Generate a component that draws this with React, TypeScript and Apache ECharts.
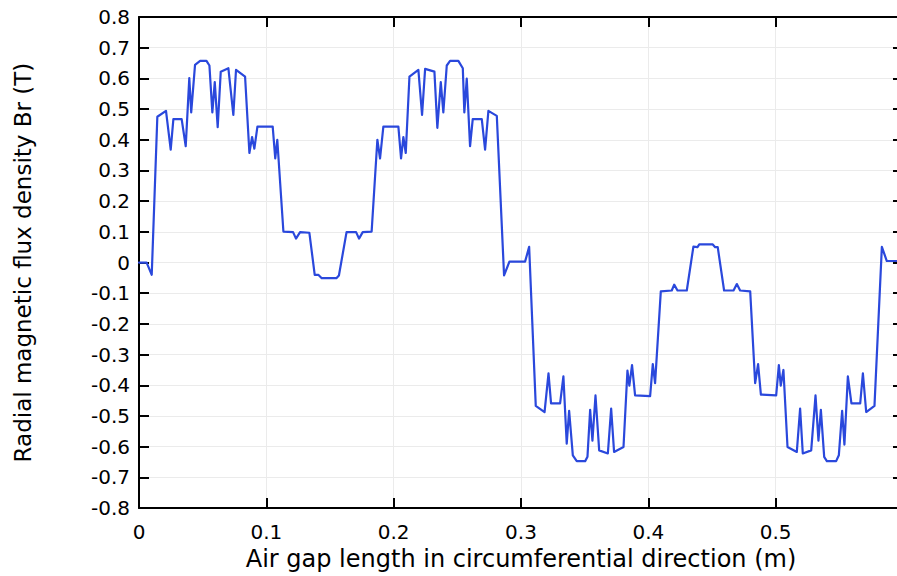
import React, { useEffect, useRef } from "react";
import * as echarts from "echarts";

const xTickInterval = 0.1;
const yTickInterval = 0.1;
const xMin = 0;
const xMax = 0.6;
const yMin = -0.8;
const yMax = 0.8;

const xValues: number[] = [
  0, 0.006, 0.010, 0.0144, 0.0212, 0.0249, 0.027, 0.0335, 0.0367, 0.0395,
  0.041, 0.044, 0.048, 0.053, 0.0553, 0.0576, 0.0595, 0.0618, 0.0642, 0.0702,
  0.0741, 0.0762, 0.0833, 0.0867, 0.0888, 0.0906, 0.093, 0.105, 0.107, 0.1086,
  0.1134, 0.121, 0.1233, 0.1265, 0.1338, 0.138, 0.1408, 0.1435, 0.155, 0.157,
  0.163, 0.1705, 0.1728, 0.1757, 0.1827, 0.1872, 0.1893, 0.1919, 0.2037, 0.2058,
  0.2076, 0.2095, 0.2124, 0.2194, 0.2223, 0.2247, 0.232, 0.2343, 0.237, 0.239,
  0.2417, 0.2443, 0.2508, 0.2543, 0.2555, 0.2574, 0.26, 0.2621, 0.2692, 0.2718,
  0.2744, 0.281, 0.2867, 0.2909, 0.3032, 0.3064, 0.3116, 0.3185, 0.3216, 0.3236,
  0.3307, 0.3333, 0.3359, 0.3378, 0.3407, 0.3438, 0.3504, 0.3522, 0.3543, 0.3561,
  0.3585, 0.3614, 0.3682, 0.3708, 0.3731, 0.3805, 0.3836, 0.3851, 0.3872, 0.3896,
  0.4014, 0.4035, 0.4053, 0.4098, 0.4184, 0.4203, 0.4229, 0.4302, 0.4354, 0.4386,
  0.44, 0.4506, 0.4525, 0.4545, 0.4595, 0.4669, 0.4695, 0.4721, 0.48, 0.4839,
  0.4862, 0.4884, 0.5004, 0.5025, 0.504, 0.5061, 0.5093, 0.5166, 0.5192, 0.5213,
  0.5279, 0.5313, 0.5336, 0.5355, 0.5381, 0.5402, 0.5475, 0.5496, 0.5522, 0.554,
  0.5567, 0.5595, 0.5664, 0.5685, 0.5711, 0.5776, 0.5834, 0.5873, 0.6,
];

const brValues: number[] = [
  0, 0, -0.04, 0.475, 0.494, 0.368, 0.467, 0.467, 0.379, 0.601,
  0.489, 0.644, 0.657, 0.657, 0.642, 0.489, 0.588, 0.441, 0.622, 0.633,
  0.481, 0.628, 0.606, 0.357, 0.409, 0.371, 0.443, 0.443, 0.339, 0.4,
  0.101, 0.099, 0.078, 0.099, 0.097, -0.04, -0.04, -0.051, -0.051, -0.042,
  0.099, 0.099, 0.078, 0.099, 0.101, 0.4, 0.339, 0.443, 0.443, 0.339,
  0.409, 0.357, 0.606, 0.628, 0.481, 0.631, 0.622, 0.439, 0.588, 0.489,
  0.642, 0.657, 0.657, 0.633, 0.489, 0.599, 0.379, 0.467, 0.467, 0.368,
  0.494, 0.478, -0.042, 0.003, 0.003, 0.051, -0.467, -0.487, -0.361, -0.459,
  -0.459, -0.371, -0.59, -0.483, -0.628, -0.647, -0.647, -0.633, -0.48, -0.58,
  -0.433, -0.612, -0.622, -0.476, -0.617, -0.601, -0.352, -0.401, -0.334, -0.433,
  -0.435, -0.331, -0.393, -0.094, -0.091, -0.072, -0.091, -0.091, 0.052, 0.05,
  0.059, 0.059, 0.05, 0.05, -0.091, -0.091, -0.07, -0.091, -0.094, -0.393,
  -0.331, -0.43, -0.433, -0.334, -0.401, -0.35, -0.601, -0.617, -0.476, -0.622,
  -0.612, -0.433, -0.58, -0.48, -0.633, -0.647, -0.647, -0.628, -0.483, -0.593,
  -0.371, -0.459, -0.459, -0.361, -0.487, -0.467, 0.051, 0.005, 0.005,
];

const xTitle = "Air gap length in circumferential direction (m)";
const yTitle = "Radial magnetic flux density Br (T)";

export default function App() {
  const ref = useRef<HTMLDivElement>(null);
  useEffect(() => {
    document.body.style.margin = "0";
    document.body.style.overflow = "hidden";
    if (!ref.current) return;
    const chart = echarts.init(ref.current, undefined, { renderer: "svg" });
    const font = "DejaVu Sans";
    const axisLineStyle = { color: "#000", width: 2 };
    const tickStyle = { show: true, inside: true, length: 10, lineStyle: { color: "#000", width: 2 } };
    const data = xValues.map((x, i) => [x, brValues[i]]);
    chart.setOption({
      animation: false,
      backgroundColor: "#fff",
      grid: { left: 139, top: 17, right: 7, bottom: 60, containLabel: false },
      xAxis: [
        {
          type: "value",
          min: xMin,
          max: xMax,
          interval: xTickInterval,
          position: "bottom",
          name: xTitle,
          nameLocation: "middle",
          nameGap: 35,
          nameTextStyle: { fontFamily: font, fontSize: 24, color: "#000" },
          axisLine: { show: true, onZero: false, lineStyle: axisLineStyle },
          axisTick: tickStyle,
          axisLabel: {
            show: true,
            fontFamily: font,
            fontSize: 20,
            color: "#000",
            margin: 14,
            showMaxLabel: false,
          },
          splitLine: { show: true, lineStyle: { color: "#ebebeb", width: 1 } },
        },
        {
          type: "value",
          min: xMin,
          max: xMax,
          interval: xTickInterval,
          position: "top",
          axisLine: { show: true, onZero: false, lineStyle: axisLineStyle },
          axisTick: tickStyle,
          axisLabel: { show: false },
          splitLine: { show: false },
        },
      ],
      yAxis: [
        {
          type: "value",
          min: yMin,
          max: yMax,
          interval: yTickInterval,
          position: "left",
          name: yTitle,
          nameLocation: "middle",
          nameGap: 105,
          nameRotate: 90,
          nameTextStyle: { fontFamily: font, fontSize: 23, color: "#000" },
          axisLine: { show: true, onZero: false, lineStyle: axisLineStyle },
          axisTick: tickStyle,
          axisLabel: { show: true, fontFamily: font, fontSize: 20, color: "#000", margin: 9 },
          splitLine: { show: true, lineStyle: { color: "#ebebeb", width: 1 } },
        },
        {
          type: "value",
          min: yMin,
          max: yMax,
          interval: yTickInterval,
          position: "right",
          axisLine: { show: true, onZero: false, lineStyle: axisLineStyle },
          axisTick: tickStyle,
          axisLabel: { show: false },
          splitLine: { show: false },
        },
      ],
      series: [
        {
          type: "line",
          data,
          xAxisIndex: 0,
          yAxisIndex: 0,
          showSymbol: false,
          symbol: "none",
          lineStyle: { color: "#2a48dc", width: 2.2, join: "round", cap: "round" },
          z: 3,
        },
      ],
    });
    return () => chart.dispose();
  }, []);
  return <div ref={ref} style={{ width: 910, height: 576 }} />;
}
